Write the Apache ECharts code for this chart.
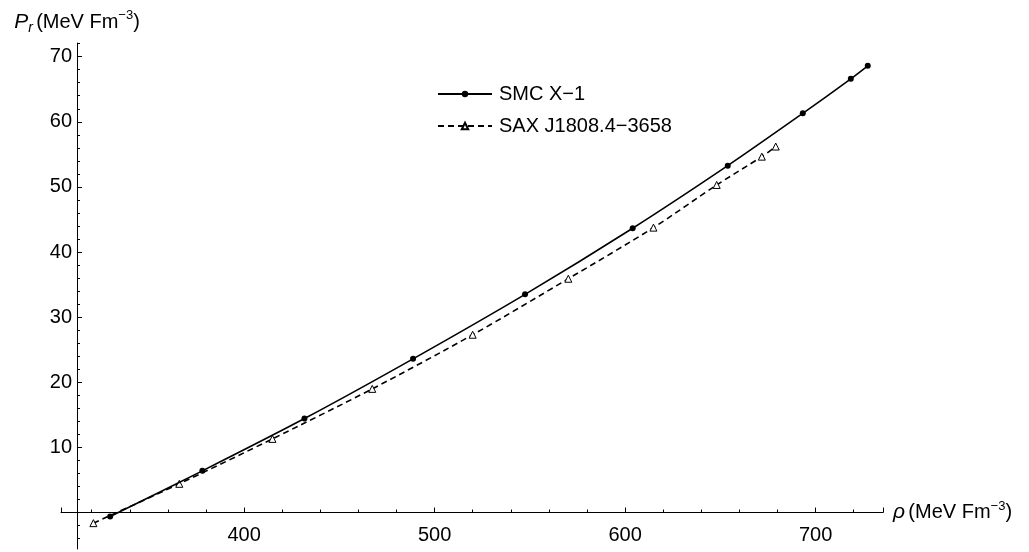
<!DOCTYPE html>
<html>
<head>
<meta charset="utf-8">
<script src="https://cdn.jsdelivr.net/npm/echarts@6/dist/echarts.min.js"></script>
<style>
html,body{margin:0;padding:0;background:#fff;}
#chart{width:1029px;height:552px;}
</style>
</head>
<body>
<div id="chart"></div>
<script>
// Data
const smcRho = [329.7, 378.1, 431.7, 488.7, 547.5, 604.0, 653.9, 693.3, 718.5, 727.4];
const smcP   = [-0.61, 6.40, 14.43, 23.6, 33.5, 43.66, 53.27, 61.3, 66.6, 68.6];
const saxRho = [320.9, 366.0, 414.9, 467.3, 520.0, 570.2, 614.9, 648.1, 671.8, 679.1];
const saxP   = [-1.63, 4.41, 11.31, 18.99, 27.3, 35.9, 43.75, 50.3, 54.65, 56.2];
const seriesNames = ['SMC X\u22121', 'SAX J1808.4\u22123658'];
const xTickValues = [400, 500, 600, 700];
const yTickValues = [0, 10, 20, 30, 40, 50, 60, 70];
const yLabelValues = [10, 20, 30, 40, 50, 60, 70];

const FONT = '"Liberation Sans", Arial, Helvetica, sans-serif';
const chart = echarts.init(document.getElementById('chart'), null, {renderer: 'canvas'});

const pair = (xs, ys) => xs.map((x, i) => [x, ys[i]]);
const isXMajor = v => xTickValues.some(t => Math.abs(t - v) < 1e-6);

chart.setOption({
  animation: false,
  backgroundColor: '#ffffff',
  textStyle: {fontFamily: FONT},
  grid: {left: 61, right: 146, top: 43, bottom: 3, outerBoundsMode: 'none'},
  legend: {
    orient: 'vertical',
    left: 437,
    top: 84,
    padding: 0,
    itemWidth: 54,
    itemHeight: 8,
    itemGap: 12,
    textStyle: {fontFamily: FONT, fontSize: 20, color: '#000', padding: [0, 0, 0, 2]},
    data: seriesNames
  },
  xAxis: {
    type: 'value',
    min: 303.9,
    max: 735.4,
    splitNumber: 5,
    axisLine: {onZero: true, lineStyle: {color: '#000', width: 1}},
    axisTick: {show: true, inside: true, length: 5, lineStyle: {color: '#000', width: 1}},
    minorTick: {show: true, splitNumber: 5, length: 3, lineStyle: {color: '#000', width: 1}},
    axisLabel: {
      show: true,
      showMinLabel: false, showMaxLabel: false,
      formatter: v => isXMajor(v) ? String(Math.round(v)) : '',
      margin: -24, fontSize: 20, color: '#000', fontFamily: FONT
    },
    splitLine: {show: false},
    name: '{i|\u03c1} {n|(MeV Fm}{s|\u22123}{n|)}',
    nameLocation: 'end',
    nameGap: 10,
    nameTextStyle: {
      align: 'left', verticalAlign: 'middle',
      rich: {
        i: {fontSize: 21, fontStyle: 'italic', fontFamily: FONT, color: '#000', lineHeight: 26, verticalAlign: 'middle'},
        n: {fontSize: 20, fontFamily: FONT, color: '#000', lineHeight: 26, verticalAlign: 'middle'},
        s: {fontSize: 13, fontFamily: FONT, color: '#000', lineHeight: 26, verticalAlign: 'top'}
      }
    }
  },
  yAxis: {
    type: 'value',
    min: -5.6,
    max: 72.1,
    splitNumber: 8,
    offset: -16,
    axisLine: {show: true, onZero: false, lineStyle: {color: '#000', width: 1}},
    axisTick: {show: true, inside: true, length: 5, customValues: yTickValues, lineStyle: {color: '#000', width: 1}},
    minorTick: {show: true, splitNumber: 5, length: 3, lineStyle: {color: '#000', width: 1}},
    axisLabel: {customValues: yLabelValues, margin: 5, fontSize: 20, color: '#000', fontFamily: FONT},
    splitLine: {show: false},
    name: '{i|P}{b|r} {n|(MeV Fm}{s|\u22123}{n|)}',
    nameLocation: 'end',
    nameGap: 8,
    nameTextStyle: {
      align: 'center',
      rich: {
        i: {fontSize: 21, fontStyle: 'italic', fontFamily: FONT, color: '#000', lineHeight: 26, verticalAlign: 'middle'},
        b: {fontSize: 14, fontStyle: 'italic', fontFamily: FONT, color: '#000', lineHeight: 26, verticalAlign: 'bottom'},
        n: {fontSize: 20, fontFamily: FONT, color: '#000', lineHeight: 26, verticalAlign: 'middle'},
        s: {fontSize: 13, fontFamily: FONT, color: '#000', lineHeight: 26, verticalAlign: 'top'}
      }
    }
  },
  series: [
    {
      name: seriesNames[0],
      type: 'line',
      data: pair(smcRho, smcP),
      smooth: 0.3,
      symbol: 'circle',
      symbolSize: 6,
      itemStyle: {color: '#000'},
      lineStyle: {color: '#000', width: 1.6, type: 'solid'},
      z: 3
    },
    {
      name: seriesNames[1],
      type: 'line',
      data: pair(saxRho, saxP),
      smooth: 0.3,
      symbol: 'triangle',
      symbolSize: 7,
      itemStyle: {color: '#fff', borderColor: '#000', borderWidth: 1},
      lineStyle: {color: '#000', width: 1.6, type: [6, 4]},
      z: 2
    }
  ]
});
</script>
</body>
</html>
